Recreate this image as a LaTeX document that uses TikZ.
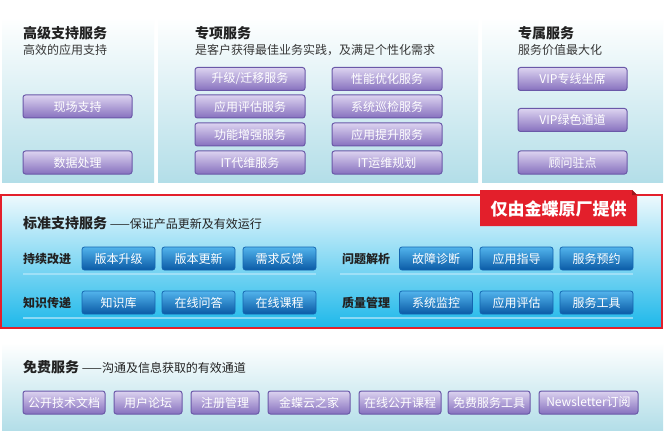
\documentclass[tikz,border=0pt]{standalone}
\usepackage{fontspec}
\setmainfont{Noto Sans CJK SC}
\usetikzlibrary{positioning}
\definecolor{panelbot}{HTML}{B3DEE8}
\definecolor{stdbot}{HTML}{1DB8EA}
\definecolor{stdtop}{HTML}{EEF9FD}
\definecolor{purpline}{HTML}{6A58A8}
\definecolor{purptop}{HTML}{DCD3F0}
\definecolor{purpbot}{HTML}{8670BE}
\definecolor{blueline}{HTML}{1466B0}
\definecolor{bluetop}{HTML}{52B4EC}
\definecolor{bluebot}{HTML}{0A5AA6}
\definecolor{kdred}{HTML}{E31F2B}
\definecolor{txtdark}{HTML}{222222}

\begin{document}
\begin{tikzpicture}[x=1pt, y=-1pt,
    panel/.style={top color=white, bottom color=panelbot, draw=none},
    ptitle/.style={anchor=west, inner sep=0pt, font=\fontsize{14}{16}\selectfont\bfseries, text=txtdark},
    psub/.style={anchor=west, inner sep=0pt, font=\fontsize{12}{14}\selectfont, text=txtdark!90},
    rowlabel/.style={anchor=west, inner sep=0pt, font=\fontsize{12}{14}\selectfont\bfseries, text=txtdark},
    pbtn/.style={rounded corners=2.5pt, draw=purpline, line width=1pt,
        top color=purptop, bottom color=purpbot, text=white,
        minimum height=23pt, inner sep=0pt, font=\fontsize{12}{14}\selectfont},
    bbtn/.style={rounded corners=2.5pt, draw=blueline, line width=0.8pt,
        top color=bluetop, bottom color=bluebot, text=white,
        minimum width=73pt, minimum height=23pt, inner sep=0pt, font=\fontsize{12}{14}\selectfont},
    sepline/.style={draw=white!70!cyan, line width=1.2pt, opacity=0.7}
]
    \useasboundingbox (0,0) rectangle (665,436);
    \fill[white] (0,0) rectangle (665,436);

    \fill[panel] (2,17) rectangle (154,182);
    \fill[panel] (158,17) rectangle (478,182);
    \fill[panel] (482,17) rectangle (663,182);

    \node[ptitle] (advtitle) at (23,33) {高级支持服务};
    \node[psub] (advsub) at (23,50) {高效的应用支持};
    \node[pbtn, minimum width=109pt] (onsite) at (77.5,106.5) {现场支持};
    \node[pbtn, minimum width=109pt] (dataproc) at (77.5,162.5) {数据处理};

    \node[ptitle] (spectitle) at (195,33) {专项服务};
    \node[psub] (specsub) at (195,50) {是客户获得最佳业务实践，及满足个性化需求};
    \node[pbtn, minimum width=110pt] (upgrade) at (250,79) {升级/迁移服务};
    \node[pbtn, minimum width=110pt] (appeval) at (250,106.5) {应用评估服务};
    \node[pbtn, minimum width=110pt] (funcext) at (250,134.5) {功能增强服务};
    \node[pbtn, minimum width=110pt] (itops) at (250,162.5) {IT代维服务};
    \node[pbtn, minimum width=110pt] (perfopt) at (387,79) {性能优化服务};
    \node[pbtn, minimum width=110pt] (syscheck) at (387,106.5) {系统巡检服务};
    \node[pbtn, minimum width=110pt] (appboost) at (387,134.5) {应用提升服务};
    \node[pbtn, minimum width=110pt] (itplan) at (387,162.5) {IT运维规划};

    \node[ptitle] (viptitle) at (518,33) {专属服务};
    \node[psub] (vipsub) at (518,50) {服务价值最大化};
    \node[pbtn, minimum width=109pt] (vipline) at (572.5,79) {VIP专线坐席};
    \node[pbtn, minimum width=109pt] (vipgreen) at (572.5,120) {VIP绿色通道};
    \node[pbtn, minimum width=109pt] (advisor) at (572.5,162.5) {顾问驻点};

    \fill[top color=stdtop, bottom color=stdbot] (1,195) rectangle (662,328);
    \draw[kdred, line width=2pt] (1,195) rectangle (662,328);
    \fill[kdred] (480,190) -- (632,190) -- (637,195) -- (637,226) -- (480,226) -- cycle;
    \fill[kdred!70!black] (632,190) -- (637,195) -- (632,195) -- cycle;
    \node[inner sep=0pt, text=white, font=\fontsize{17}{19}\selectfont\bfseries] (onlykd) at (558.5,208.5) {仅由金蝶原厂提供};

    \node[anchor=west, inner sep=0pt, text=txtdark, font=\fontsize{12}{14}\selectfont] (stdtitle) at (23,223)
        {{\fontsize{14}{16}\selectfont\bfseries 标准支持服务} ——保证产品更新及有效运行};

    \node[rowlabel] (improve) at (23,258.5) {持续改进};
    \node[rowlabel] (knowledge) at (23,302.5) {知识传递};
    \node[bbtn] (verup) at (118.5,258.5) {版本升级};
    \node[bbtn] (verupd) at (198.5,258.5) {版本更新};
    \node[bbtn] (feedback) at (279.5,258.5) {需求反馈};
    \node[bbtn] (kbase) at (118.5,302.5) {知识库};
    \node[bbtn] (qa) at (198.5,302.5) {在线问答};
    \node[bbtn] (course) at (279.5,302.5) {在线课程};
    \draw[sepline] (23,274) -- (316,274);
    \draw[sepline] (23,318) -- (316,318);

    \node[rowlabel] (analysis) at (342,258.5) {问题解析};
    \node[rowlabel] (quality) at (342,302.5) {质量管理};
    \node[bbtn] (diagnose) at (436,258.5) {故障诊断};
    \node[bbtn] (guide) at (516.5,258.5) {应用指导};
    \node[bbtn] (booking) at (596.5,258.5) {服务预约};
    \node[bbtn] (monitor) at (436,302.5) {系统监控};
    \node[bbtn] (assess) at (516.5,302.5) {应用评估};
    \node[bbtn] (tools) at (596.5,302.5) {服务工具};
    \draw[sepline] (340,274) -- (633,274);
    \draw[sepline] (340,318) -- (633,318);

    \fill[panel] (2,343) rectangle (663,430);
    \node[anchor=west, inner sep=0pt, text=txtdark, font=\fontsize{12}{14}\selectfont] (freetitle) at (23,367)
        {{\fontsize{14}{16}\selectfont\bfseries 免费服务} ——沟通及信息获取的有效通道};
    \node[pbtn, minimum width=82pt] (techdoc) at (64,402.5) {公开技术文档};
    \node[pbtn, minimum width=68pt] (forum) at (148,402.5) {用户论坛};
    \node[pbtn, minimum width=68pt] (register) at (225,402.5) {注册管理};
    \node[pbtn, minimum width=82pt] (cloudhome) at (309,402.5) {金蝶云之家};
    \node[pbtn, minimum width=82pt] (opencourse) at (400,402.5) {在线公开课程};
    \node[pbtn, minimum width=82pt] (freetools) at (489,402.5) {免费服务工具};
    \node[pbtn, minimum width=99pt] (newsletter) at (588.5,402.5) {Newsletter订阅};
\end{tikzpicture}
\end{document}
